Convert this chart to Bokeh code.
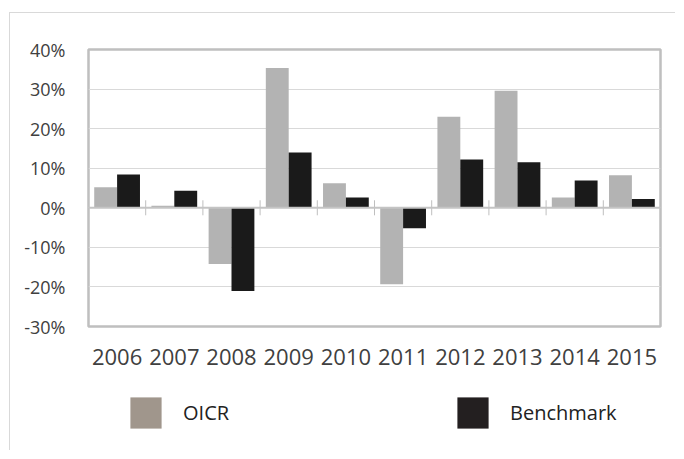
from bokeh.plotting import figure
from bokeh.layouts import column
from bokeh.models import (ColumnDataSource, FixedTicker, CustomJSTickFormatter,
                          Legend, LegendItem, Span, Range1d)
from bokeh.transform import dodge
from bokeh.embed import file_html
from bokeh.resources import INLINE

years = ["2006", "2007", "2008", "2009", "2010", "2011", "2012", "2013", "2014", "2015"]
oicr = [5.2, 0.5, -14.2, 35.3, 6.2, -19.3, 23.0, 29.6, 2.6, 8.2]
benchmark = [8.4, 4.3, -21.0, 14.0, 2.6, -5.2, 12.2, 11.5, 6.9, 2.2]
y_ticks = [-30, -20, -10, 0, 10, 20, 30, 40]
series_names = ["OICR", "Benchmark"]

src = ColumnDataSource(dict(year=years, oicr=oicr, bench=benchmark))
bound_src = ColumnDataSource(dict(year=years[1:]))

p = figure(x_range=years, y_range=(y_ticks[0], y_ticks[-1]), width=666, height=367,
           output_backend="svg", toolbar_location=None,
           min_border_left=78, min_border_right=16, min_border_top=36, min_border_bottom=54)
p.styles = {"border-top": "1px solid #d9d9d9", "border-left": "1px solid #d9d9d9"}

p.background_fill_color = "white"
p.border_fill_color = "white"
p.outline_line_color = "#bfbfbf"
p.outline_line_width = 2.5

p.xgrid.grid_line_color = None
p.ygrid.grid_line_color = "#d9d9d9"
p.ygrid.grid_line_width = 1
p.yaxis.ticker = FixedTicker(ticks=y_ticks)

p.vbar(x=dodge("year", -0.2, range=p.x_range), top="oicr", width=0.4, source=src,
       fill_color="#b3b3b3", line_color=None)
p.vbar(x=dodge("year", 0.2, range=p.x_range), top="bench", width=0.4, source=src,
       fill_color="#1a1a1a", line_color=None)

# zero axis line and category boundary tick marks
p.add_layout(Span(location=0, dimension="width", line_color="#c4c4c4", line_width=2))
p.segment(x0=dodge("year", -0.5, range=p.x_range), x1=dodge("year", -0.5, range=p.x_range),
          y0=1.9, y1=-1.9, source=bound_src, line_color="#bfbfbf", line_width=1)

# axes
for ax in (p.xaxis[0], p.yaxis[0]):
    ax.axis_line_color = None
    ax.major_tick_line_color = None
    ax.minor_tick_line_color = None
    ax.major_label_text_font = "Open Sans"
    ax.major_label_text_color = "#404040"
p.yaxis.major_label_text_font_size = "18px"
p.yaxis.major_label_standoff = 17
p.yaxis.formatter = CustomJSTickFormatter(code="return tick + '%';")
p.xaxis.major_label_text_font_size = "22px"
p.xaxis.major_label_standoff = 16

# legend strip below (swatches use their own colours)
p2 = figure(x_range=years, y_range=Range1d(0, 1), width=666, height=71,
            output_backend="svg", toolbar_location=None,
            x_axis_location=None, y_axis_location=None,
            min_border_left=0, min_border_right=0, min_border_top=0, min_border_bottom=0)
p2.styles = {"border-left": "1px solid #d9d9d9"}
p2.grid.visible = False
p2.outline_line_color = None
p2.background_fill_color = "white"
p2.border_fill_color = "white"
r1 = p2.vbar(x="year", top="oicr", width=0.4, source=src, fill_color="#a0968c",
             line_color=None, visible=False)
r2 = p2.vbar(x="year", top="bench", width=0.4, source=src, fill_color="#231f20",
             line_color=None, visible=False)
legend = Legend(items=[LegendItem(label=series_names[0], renderers=[r1]),
                       LegendItem(label=series_names[1], renderers=[r2])],
                orientation="horizontal", location=(38, 16),
                glyph_width=39, glyph_height=39, label_standoff=18,
                label_width=110, label_height=44, spacing=160, padding=0, margin=0,
                border_line_color=None, background_fill_alpha=0,
                label_text_font="Open Sans", label_text_font_size="20px",
                label_text_color="#222222", label_text_baseline="bottom")
p2.add_layout(legend, "center")

layout = column(p, p2, spacing=0, margin=(12, 0, 0, 9))
open("out.html", "w").write(file_html(layout, INLINE))
